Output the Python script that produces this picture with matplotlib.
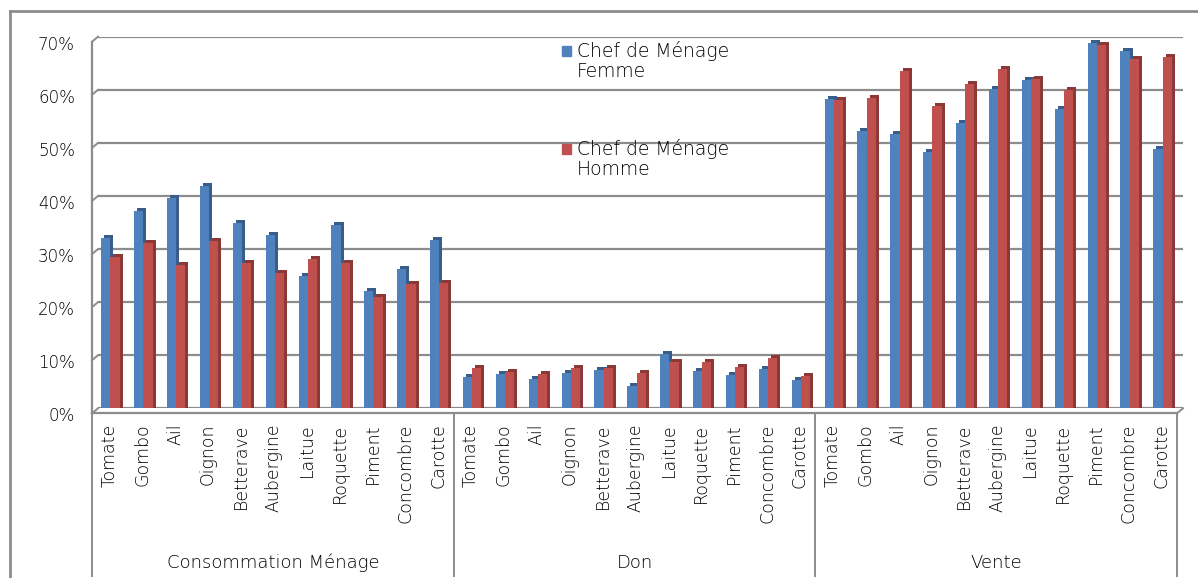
import matplotlib
matplotlib.use("Agg")
import matplotlib.pyplot as plt
from matplotlib.transforms import ScaledTranslation, blended_transform_factory
from matplotlib.patches import Rectangle
from matplotlib.lines import Line2D
from matplotlib.ticker import PercentFormatter

plt.rcParams['font.family'] = ['DejaVu Sans']
plt.rcParams['font.weight'] = 'light'

legumes = ["Tomate", "Gombo", "Ail", "Oignon", "Betterave", "Aubergine",
           "Laitue", "Roquette", "Piment", "Concombre", "Carotte"]
groupes = ["Consommation Ménage", "Don", "Vente"]

# parts (fraction), dans l'ordre des legumes
femme_conso = [0.330, 0.382, 0.405, 0.428, 0.358, 0.336, 0.258, 0.354, 0.230, 0.271, 0.326]
homme_conso = [0.294, 0.320, 0.280, 0.325, 0.284, 0.264, 0.290, 0.284, 0.220, 0.244, 0.246]
femme_don = [0.068, 0.074, 0.064, 0.076, 0.082, 0.051, 0.112, 0.080, 0.072, 0.084, 0.063]
homme_don = [0.086, 0.077, 0.074, 0.085, 0.085, 0.075, 0.096, 0.097, 0.088, 0.105, 0.071]
femme_vente = [0.592, 0.532, 0.527, 0.492, 0.547, 0.611, 0.628, 0.574, 0.697, 0.682, 0.497]
homme_vente = [0.590, 0.594, 0.644, 0.578, 0.621, 0.648, 0.630, 0.609, 0.694, 0.668, 0.671]

femme = femme_conso + femme_don + femme_vente
homme = homme_conso + homme_don + homme_vente
labels = legumes * 3
n = len(labels)

BLUE, BLUE_D = "#4F81BD", "#385D8A"
RED, RED_D = "#C0504D", "#8C3836"
GRID = "#8C8C8C"
TXT = "#000000"

W, H = 1198, 578
fig = plt.figure(figsize=(W / 100, H / 100), dpi=100)

# mur du fond (pixels)
x0, x1 = 98, 1183
y_top, y_bot = 36.7, 408.3
ax = fig.add_axes([x0 / W, 1 - y_bot / H, (x1 - x0) / W, (y_bot - y_top) / H])
ax.set_xlim(-0.5, n - 0.5)
ax.set_ylim(0, 0.70)
for s in ax.spines.values():
    s.set_visible(False)

def px(dx, dy):
    return ScaledTranslation(dx / 100, dy / 100, fig.dpi_scale_trans)

# conversions pixel -> donnees
ux = (n) / (x1 - x0)
uy = 0.70 / (y_bot - y_top)
fdx, fdy = -6, -5  # decalage du bord avant

# grille sur le mur du fond
yt = [i / 10 for i in range(8)]
for v in yt:
    ax.axhline(v, color=GRID, lw=1.6, zorder=0)
    # petite diagonale vers le bord avant
    ax.add_line(Line2D([-0.5 + fdx * ux, -0.5], [v + fdy * uy, v],
                       color=GRID, lw=1.4, clip_on=False, zorder=0))

# bord avant gauche + sol avant
ax.add_line(Line2D([-0.5 + fdx * ux] * 2, [fdy * uy, 0.70 + fdy * uy],
                   color=GRID, lw=1.6, clip_on=False))
ax.add_line(Line2D([-0.5 + fdx * ux, n - 0.5 + fdx * ux], [fdy * uy] * 2,
                   color=GRID, lw=1.6, clip_on=False, zorder=3))
ax.add_line(Line2D([n - 0.5 + fdx * ux, n - 0.5], [fdy * uy, 0],
                   color=GRID, lw=1.4, clip_on=False, zorder=3))

# barres en pseudo 3D : face sombre (profondeur) puis face avant
x = list(range(n))
bw = 0.28
xb = [i - bw / 2 for i in x]
xr = [i + bw / 2 for i in x]
d1 = ax.bar(xb, femme, bw, color=BLUE_D, lw=0, zorder=2)
d2 = ax.bar(xr, homme, bw, color=RED_D, lw=0, zorder=2)
f1 = ax.bar(xb, femme, bw, color=BLUE, lw=0, zorder=2.5)
f2 = ax.bar(xr, homme, bw, color=RED, lw=0, zorder=2.5)
for p in list(d1) + list(d2):
    p.set_transform(ax.transData + px(-1, -2))
for p in list(f1) + list(f2):
    p.set_transform(ax.transData + px(-4, -5))

# axe Y
ax.set_yticks(yt)
ax.yaxis.set_major_formatter(PercentFormatter(1.0, decimals=0))
ax.tick_params(axis="y", length=0, pad=16.5, labelsize=12, labelcolor=TXT)
for lab in ax.get_yticklabels():
    lab.set_transform(lab.get_transform() + px(0, -6))
ax.yaxis.grid(False)

# axe X
ax.set_xticks(x)
ax.set_xticklabels(labels, rotation=90, va="top", ha="center")
ax.tick_params(axis="x", length=0, pad=11, labelsize=12.5, labelcolor=TXT)
for lab in ax.get_xticklabels():
    lab.set_transform(lab.get_transform() + px(-5, 0))

# separateurs des groupes et noms des groupes
bt = blended_transform_factory(ax.transData, ax.transAxes)
h_ax = y_bot - y_top
y_end = (y_bot - 576) / h_ax
for b in [-0.5, 10.5, 21.5, n - 0.5]:
    ax.add_line(Line2D([b + fdx * ux] * 2, [fdy / h_ax, y_end], transform=bt,
                       color=GRID, lw=1.4, clip_on=False))
for k, g in enumerate(groupes):
    ax.text(k * 11 + 5 + fdx * ux, (y_bot - 563) / h_ax, g, transform=bt,
            ha="center", va="center", fontsize=13, color=TXT)

# legende
for (lbl, col, yy) in [("Chef de Ménage\nFemme", BLUE, 46), ("Chef de Ménage\nHomme", RED, 144)]:
    fig.patches.append(Rectangle((562 / W, 1 - (yy + 10) / H), 9 / W, 10 / H,
                                 transform=fig.transFigure, color=col))
    fig.text(577 / W, 1 - (yy - 5) / H, lbl, ha="left", va="top", fontsize=13.5,
             color=TXT, linespacing=1.05)

# cadre exterieur
fig.add_artist(Line2D([10 / W, 10 / W], [1 - 577 / H, 1 - 11 / H], color=GRID, lw=2))
fig.add_artist(Line2D([10 / W, 1.0], [1 - 11 / H, 1 - 11 / H], color=GRID, lw=2))

fig.savefig("out.png", dpi=100)
